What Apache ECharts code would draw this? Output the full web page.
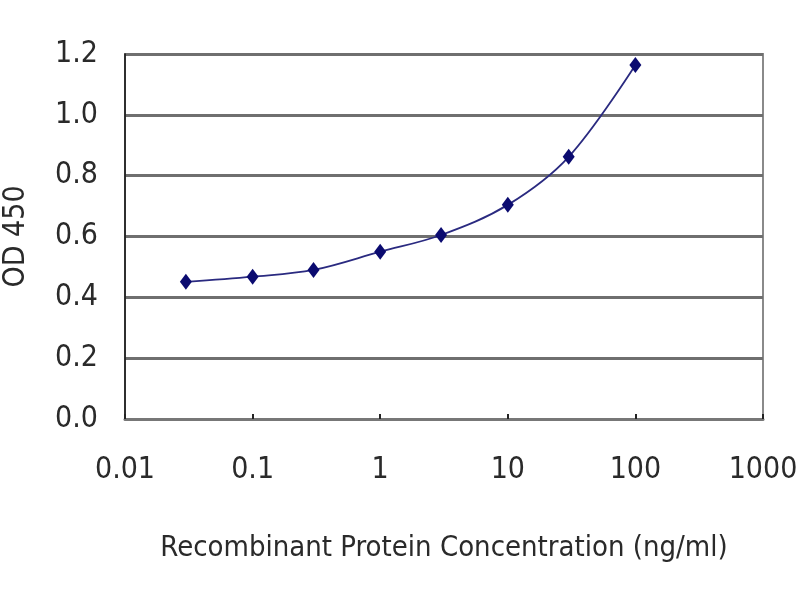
<!DOCTYPE html>
<html>
<head>
<meta charset="utf-8">
<script src="https://cdn.jsdelivr.net/npm/echarts@6/dist/echarts.min.js"></script>
<style>html,body{margin:0;padding:0;background:#fff}#c{width:800px;height:600px}</style>
</head>
<body>
<div id="c"></div>
<script>
const concentrations = [0.03, 0.1, 0.3, 1, 3, 10, 30, 100];
const od450 = [0.451, 0.468, 0.490, 0.550, 0.605, 0.704, 0.862, 1.164];
const xTickLabels = ['0.01', '0.1', '1', '10', '100', '1000'];
const yTicks = [0, 0.2, 0.4, 0.6, 0.8, 1.0, 1.2];
const xTitle = 'Recombinant Protein Concentration (ng/ml)';
const yTitle = 'OD 450';

const font = '"Liberation Sans Narrow", "DejaVu Sans Condensed", Arial, sans-serif';
const chart = echarts.init(document.getElementById('c'), null, {renderer: 'canvas'});
chart.setOption({
  animation: false,
  backgroundColor: '#ffffff',
  grid: {left: 125, right: 37, top: 54, bottom: 181, outerBoundsMode: 'none', containLabel: false,
    show: true, borderColor: '#8a8a8a', borderWidth: 2, backgroundColor: '#ffffff'},
  xAxis: {
    type: 'log', logBase: 10, min: 0.01, max: 1000,
    name: xTitle, nameLocation: 'middle', nameGap: 115,
    nameTextStyle: {fontFamily: font, fontSize: 29, color: '#2a2a2a'},
    axisLine: {show: true, lineStyle: {color: '#777', width: 3}},
    axisTick: {show: true, inside: true, length: 5, lineStyle: {color: '#222', width: 2}},
    axisLabel: {margin: 36, fontFamily: font, fontSize: 30, color: '#2a2a2a',
      formatter: function (v) {
        const i = Math.round(Math.log10(v)) + 2;
        return xTickLabels[i] !== undefined ? xTickLabels[i] : String(v);
      }},
    splitLine: {show: false},
    minorTick: {show: false}
  },
  yAxis: {
    type: 'value', min: yTicks[0], max: yTicks[yTicks.length - 1], interval: 0.2,
    name: yTitle, nameLocation: 'middle', nameGap: 94, nameRotate: 90,
    nameTextStyle: {fontFamily: font, fontSize: 30, color: '#2a2a2a'},
    axisLine: {show: true, lineStyle: {color: '#111', width: 1.5}},
    axisTick: {show: false},
    axisLabel: {margin: 27, fontFamily: font, fontSize: 30, color: '#2a2a2a',
      formatter: function (v) { return v.toFixed(1); }},
    splitLine: {show: true, lineStyle: {color: '#6f6f6f', width: 3}}
  },
  series: [{
    type: 'line',
    data: concentrations.map((x, i) => [x, od450[i]]),
    smooth: 0.35,
    symbol: 'diamond',
    symbolSize: [12, 16],
    itemStyle: {color: '#0b0b70'},
    lineStyle: {color: '#2a2a80', width: 1.8}
  }]
});
</script>
</body>
</html>
